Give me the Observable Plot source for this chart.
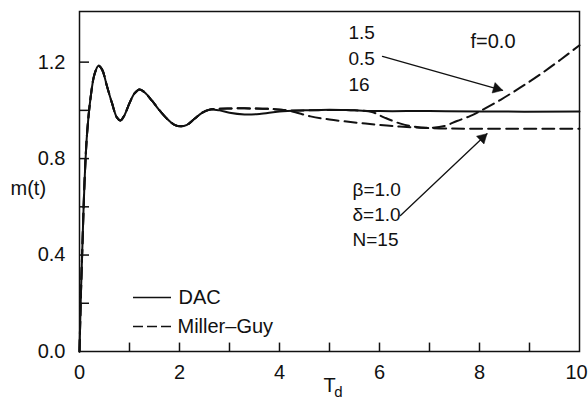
<!DOCTYPE html>
<html><head><meta charset="utf-8">
<script src="https://cdn.jsdelivr.net/npm/d3@7"></script>
<script src="https://cdn.jsdelivr.net/npm/@observablehq/plot@0.6"></script>
<style>html,body{margin:0;padding:0;background:#fff} svg{display:block}</style>
</head><body><div id="chart"></div>
<script>
// DAC response
const dacT = [0, 0.03, 0.06, 0.1, 0.15, 0.22, 0.3, 0.38, 0.45, 0.55, 0.65, 0.75, 0.82, 0.9, 1.0, 1.1, 1.2, 1.3, 1.45, 1.6, 1.75, 1.9, 2.02, 2.15, 2.3, 2.45, 2.6, 2.8, 3.0, 3.3, 3.6, 4.0, 4.5, 5.0, 5.5, 6.0, 7.0, 8.0, 10.0];
const dacM = [0, 0.25, 0.45, 0.7, 0.9, 1.05, 1.15, 1.185, 1.17, 1.1, 1.03, 0.97, 0.958, 0.98, 1.03, 1.07, 1.087, 1.075, 1.04, 1.0, 0.965, 0.94, 0.934, 0.94, 0.965, 0.99, 1.003, 1.0, 0.99, 0.983, 0.985, 0.995, 1.0, 1.003, 1.0, 0.997, 0.997, 0.995, 0.995];
// Miller-Guy, beta=1.0, delta=1.0, N=15
const mgAT = [0, 0.03, 0.06, 0.1, 0.15, 0.22, 0.3, 0.38, 0.45, 0.55, 0.65, 0.75, 0.82, 0.9, 1.0, 1.1, 1.2, 1.3, 1.45, 1.6, 1.75, 1.9, 2.02, 2.15, 2.3, 2.45, 2.6, 2.8, 3.0, 3.5, 3.9, 4.22, 4.62, 5.0, 5.5, 5.92, 6.4, 6.8, 7.2, 8.0, 10.0];
const mgAM = [0, 0.25, 0.45, 0.7, 0.9, 1.05, 1.15, 1.185, 1.17, 1.1, 1.03, 0.97, 0.958, 0.98, 1.03, 1.07, 1.087, 1.075, 1.04, 1.0, 0.965, 0.94, 0.934, 0.94, 0.965, 0.99, 1.003, 1.007, 1.008, 1.008, 1.005, 0.997, 0.975, 0.962, 0.95, 0.941, 0.933, 0.928, 0.925, 0.924, 0.924];
// Miller-Guy, beta=1.5, delta=0.5, N=16 (f=0.0)
const mgBT = [0, 0.03, 0.06, 0.1, 0.15, 0.22, 0.3, 0.38, 0.45, 0.55, 0.65, 0.75, 0.82, 0.9, 1.0, 1.1, 1.2, 1.3, 1.45, 1.6, 1.75, 1.9, 2.02, 2.15, 2.3, 2.45, 2.6, 2.8, 3.0, 3.5, 3.9, 4.2, 4.6, 5.0, 5.5, 5.85, 6.1, 6.42, 6.7, 7.02, 7.3, 7.55, 7.82, 8.02, 8.43, 8.82, 9.22, 9.62, 10.0];
const mgBM = [0, 0.25, 0.45, 0.7, 0.9, 1.05, 1.15, 1.185, 1.17, 1.1, 1.03, 0.97, 0.958, 0.98, 1.03, 1.07, 1.087, 1.075, 1.04, 1.0, 0.965, 0.94, 0.934, 0.94, 0.965, 0.99, 1.003, 1.007, 1.008, 1.008, 1.005, 1.0, 1.0, 1.002, 1.0, 0.993, 0.97, 0.945, 0.932, 0.928, 0.935, 0.956, 0.977, 0.998, 1.045, 1.095, 1.15, 1.21, 1.27];

const yTickLabels = [0, 0.4, 0.8, 1.2];
const yTicks = [0.2, 0.4, 0.6, 0.8, 1.0, 1.2];
const xTickLabels = [0, 2, 4, 6, 8];
const xTickLast = [10];
const xTicks = [1, 2, 3, 4, 5, 6, 7, 8, 9];
const seriesNames = ["DAC", "Miller–Guy"];
const paramsUpper = ["1.5", "0.5", "16"];
const paramsLower = ["β=1.0", "δ=1.0", "N=15"];
const fLabel = "f=0.0";

const zip = (T, M) => T.map((t, i) => ({t, m: M[i]}));
const dac = zip(dacT, dacM);
const mgA = zip(mgAT, mgAM);
const mgB = zip(mgBT, mgBM);

const ink = "#111";
const dash = "12,6";
const arrows = [
  {x1: 6.06, y1: 1.224, x2: 8.46, y2: 1.083, rot: 105.8, dx: -5.9, dy: -1.7},
  {x1: 6.42, y1: 0.564, x2: 8.15, y2: 0.903, rot: 46.7, dx: -4.5, dy: 4.2}
];

const chart = Plot.plot({
  width: 588,
  height: 399,
  marginLeft: 79,
  marginRight: 9,
  marginTop: 11,
  marginBottom: 48,
  x: {domain: [0, 10]},
  y: {domain: [0, 1.41]},
  style: {fontFamily: "'Liberation Sans', Arial, sans-serif", fontSize: "20px", color: ink, background: "#fff"},
  marks: [
    Plot.frame({stroke: ink, strokeWidth: 1.5}),
    Plot.ruleY(yTicks, {x1: 0, x2: 0.2, stroke: ink, strokeWidth: 1.5}),
    Plot.ruleX(xTicks, {y1: 0, y2: 0.035, stroke: ink, strokeWidth: 1.5}),
    Plot.axisY(yTickLabels, {tickSize: 0, tickPadding: 14, tickFormat: d3.format(".1f"), label: null, fontSize: 20}),
    Plot.axisX(xTickLabels, {tickSize: 0, tickPadding: 13, label: null, fontSize: 20}),
    Plot.axisX(xTickLast, {tickSize: 0, tickPadding: 13, label: null, fontSize: 20, dx: -3}),
    Plot.line(dac, {x: "t", y: "m", stroke: ink, strokeWidth: 2, curve: "catmull-rom"}),
    Plot.line(mgA, {x: "t", y: "m", stroke: ink, strokeWidth: 2, strokeDasharray: dash, curve: "catmull-rom"}),
    Plot.line(mgB, {x: "t", y: "m", stroke: ink, strokeWidth: 2, strokeDasharray: dash, curve: "catmull-rom"}),
    // axis titles
    Plot.text(["m(t)"], {frameAnchor: "left", dx: -69, dy: 7, textAnchor: "start", fontSize: 20}),
    Plot.text(["T"], {frameAnchor: "bottom", dx: 0, dy: 40, fontSize: 20}),
    Plot.text(["d"], {frameAnchor: "bottom", dx: 9, dy: 45, fontSize: 15}),
    // legend
    Plot.ruleY([0.224], {x1: 1.08, x2: 1.84, stroke: ink, strokeWidth: 1.5}),
    Plot.ruleY([0.104], {x1: 1.08, x2: 1.84, stroke: ink, strokeWidth: 1.5, strokeDasharray: "10,4"}),
    Plot.text([seriesNames[0]], {x: 1.98, y: 0.224, textAnchor: "start", fontSize: 20}),
    Plot.text([seriesNames[1]], {x: 1.96, y: 0.104, textAnchor: "start", fontSize: 20}),
    // annotations
    Plot.text(paramsUpper, {x: 5.38, y: (d, i) => 1.32 - i * 0.107, textAnchor: "start", fontSize: 19}),
    Plot.text([fLabel], {x: 7.82, y: 1.286, textAnchor: "start", fontSize: 20}),
    Plot.text(paramsLower, {x: 5.46, y: (d, i) => 0.672 - i * 0.105, textAnchor: "start", fontSize: 19}),
    Plot.arrow(arrows, {x1: "x1", y1: "y1", x2: "x2", y2: "y2", stroke: ink, strokeWidth: 1.3, headLength: 0}),
    ...arrows.map(a => Plot.dot([a], {x: "x2", y: "y2", symbol: "triangle", r: 4, fill: ink, stroke: ink, strokeWidth: 0.5, rotate: a.rot, dx: a.dx, dy: a.dy}))
  ]
});
document.getElementById("chart").append(chart);
</script>
</body></html>
